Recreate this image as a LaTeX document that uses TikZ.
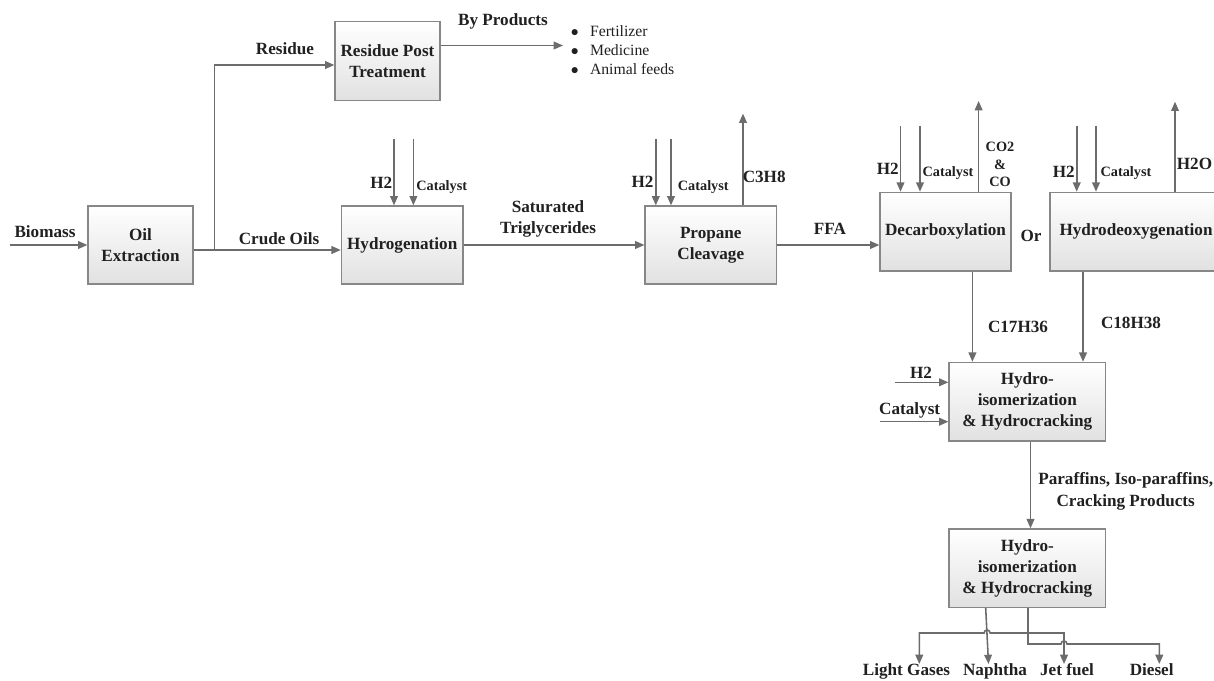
\documentclass[tikz,border=0pt]{standalone}
\usepackage{fontspec}
\setmainfont{Liberation Serif}
\usepackage{tikz}
\usetikzlibrary{positioning,arrows.meta}
\definecolor{FlowGray}{RGB}{108,108,108}
\definecolor{EdgeGray}{RGB}{135,135,135}
\definecolor{ShadeGray}{RGB}{225,225,225}
\definecolor{InkDark}{RGB}{32,32,32}

\begin{document}
\begin{tikzpicture}[x=0.7pt,y=-0.7pt,
  box/.style={draw=EdgeGray, line width=0.9pt, top color=white, bottom color=ShadeGray, align=center, text=InkDark, inner sep=0pt, font=\bfseries\fontsize{12}{14.6}\selectfont},
  flow/.style={draw=FlowGray, line width=1.1pt, -{Triangle[length=6.5pt,width=5.4pt]}},
  lbl/.style={text=InkDark, align=center, inner sep=0pt, font=\bfseries\fontsize{12}{14.8}\selectfont},
  sml/.style={text=InkDark, align=center, inner sep=0pt, font=\bfseries\fontsize{10}{12.3}\selectfont}
]
\useasboundingbox (0,0) rectangle (1214,680);

% process boxes
\node[box, minimum width=73.5pt, minimum height=54.6pt] (oil) at (140.5,245) {Oil\\Extraction};
\node[box, minimum width=73.5pt, minimum height=55.3pt] (rpt) at (387.5,61.3) {Residue Post\\Treatment};
\node[box, minimum width=85.1pt, minimum height=54.6pt] (hyd) at (402.2,245) {Hydrogenation};
\node[box, minimum width=92pt, minimum height=54.6pt] (prop) at (710.8,245) {Propane\\Cleavage};
\node[box, minimum width=91.7pt, minimum height=55pt] (dcx) at (945.5,231.6) {Decarboxylation};
\node[box, minimum width=120.4pt, minimum height=55pt] (hdo) at (1136,231.6) {Hydrodeoxygenation};
\node[box, minimum width=109.6pt, minimum height=55pt] (hic1) at (1027.3,401.7) {Hydro-\\isomerization\\\& Hydrocracking};
\node[box, minimum width=109.6pt, minimum height=55pt] (hic2) at (1027.3,568.2) {Hydro-\\isomerization\\\& Hydrocracking};

% feed and extraction
\coordinate (bio) at (10,245);
\draw[flow] (bio) -- (oil);
\node[lbl] (biolbl) at (45,232) {Biomass};
\coordinate (split) at (214.5,250);
\draw[flow] (oil.east |- split) -- (hyd.west |- split);
\node[lbl] (crude) at (279,238.5) {Crude Oils};
\draw[flow] (split) |- ([yshift=-2.6pt]rpt.west);
\node[lbl] (resid) at (285,48.6) {Residue};

% by products
\coordinate (byp) at (563,45.5);
\draw[flow] (rpt.east |- byp) -- (byp);
\node[lbl] (bylbl) at (503,21.7) {By Products};
\node[anchor=west, inner sep=0pt, align=left, text=InkDark, font=\fontsize{11}{13.3}\selectfont] (bylist) at (570.5,50)
  {$\bullet$\hspace{8pt}Fertilizer\\$\bullet$\hspace{8pt}Medicine\\$\bullet$\hspace{8pt}Animal feeds};

% hydrogenation
\coordinate (hydA) at (394,139);
\coordinate (hydB) at (413.4,139);
\draw[flow] (hydA) -- (hydA |- hyd.north);
\draw[flow] (hydB) -- (hydB |- hyd.north);
\node[lbl] (hydh2) at (381.3,182.7) {H2};
\node[sml] (hydcat) at (441.7,186.7) {Catalyst};
\draw[flow] (hyd) -- (prop);
\node[lbl] (stg) at (548,219.3) {Saturated\\Triglycerides};

% propane cleavage
\coordinate (propA) at (655.8,139);
\coordinate (propB) at (671,139);
\draw[flow] (propA) -- (propA |- prop.north);
\draw[flow] (propB) -- (propB |- prop.north);
\node[lbl] (proph2) at (642.5,181.7) {H2};
\node[sml] (propcat) at (703.3,186.7) {Catalyst};
\coordinate (c3) at (743,113.6);
\draw[flow] (c3 |- prop.north) -- (c3);
\node[lbl, anchor=west] (c3lbl) at (742.5,176.7) {C3H8};
\draw[flow] (prop.east) -- (prop.east -| dcx.west);
\node[lbl] (ffa) at (830,228.5) {FFA};

% decarboxylation / hydrodeoxygenation
\coordinate (dcxA) at (900.5,125.8);
\coordinate (dcxB) at (920,125.8);
\draw[flow] (dcxA) -- (dcxA |- dcx.north);
\draw[flow] (dcxB) -- (dcxB |- dcx.north);
\node[lbl] (dcxh2) at (887.7,169) {H2};
\node[sml] (dcxcat) at (948,173.3) {Catalyst};
\coordinate (co) at (978.6,101);
\draw[flow] (co |- dcx.north) -- (co);
\node[sml, font=\bfseries\fontsize{10}{12.25}\selectfont] (colbl) at (1000,164.8) {CO2\\\&\\CO};
\node[lbl] (orlbl) at (1031,235.5) {Or};
\coordinate (hdoA) at (1076.7,125.7);
\coordinate (hdoB) at (1096,125.7);
\draw[flow] (hdoA) -- (hdoA |- hdo.north);
\draw[flow] (hdoB) -- (hdoB |- hdo.north);
\node[lbl] (hdoh2) at (1063.7,172.3) {H2};
\node[sml] (hdocat) at (1126,173.3) {Catalyst};
\coordinate (wat) at (1175,101.7);
\draw[flow] (wat |- hdo.north) -- (wat);
\node[lbl] (watlbl) at (1194.5,164) {H2O};

% isomerization and cracking
\coordinate (c17) at (972.4,326);
\draw[flow] (c17 |- dcx.south) -- (c17 |- hic1.north);
\node[lbl] (c17lbl) at (1018,326.7) {C17H36};
\coordinate (c18) at (1083,323);
\draw[flow] (c18 |- hdo.south) -- (c18 |- hic1.north);
\node[lbl] (c18lbl) at (1131,323.3) {C18H38};
\coordinate (h2in) at (895,382.3);
\draw[flow] (h2in) -- (h2in -| hic1.west);
\node[lbl] (h2inlbl) at (921,372.7) {H2};
\coordinate (catin) at (879.5,421.7);
\draw[flow] (catin) -- (catin -| hic1.west);
\node[lbl] (catinlbl) at (909.7,410) {Catalyst};
\coordinate (par) at (1030.5,490);
\draw[flow] (par |- hic1.south) -- (par |- hic2.north);
\node[lbl] (parlbl) at (1125.7,491.3) {Paraffins, Iso-paraffins,\\Cracking Products};

% products
\node[lbl, anchor=base] (gas) at (906.5,675.5) {Light Gases};
\node[lbl, anchor=base] (nap) at (995,675.5) {Naphtha};
\node[lbl, anchor=base] (jet) at (1067,675.5) {Jet fuel};
\node[lbl, anchor=base] (dsl) at (1151.7,675.5) {Diesel};
\coordinate (gasT) at (919.3,664);
\coordinate (napT) at (988.5,664);
\coordinate (jetT) at (1064,664);
\coordinate (dslT) at (1159.3,664);
\coordinate (napS) at (985.7,640);
\coordinate (dslS) at (1028,644);
\coordinate (hopA) at (987.1,633);
\draw[flow] (napS |- hic2.south) -- (napT);
\draw[flow, {Triangle[length=6.5pt,width=5.4pt]}-{Triangle[length=6.5pt,width=5.4pt]}]
  (gasT) -- (gasT |- hopA) -- ([xshift=-2.1pt]hopA) arc[start angle=180, end angle=360, radius=3] -- (jetT |- hopA) -- (jetT);
\draw[flow] (dslS |- hic2.south) -- (dslS) -- ([xshift=-2.1pt]jetT |- dslS) arc[start angle=180, end angle=360, radius=3] -- (dslT |- dslS) -- (dslT);
\end{tikzpicture}
\end{document}
